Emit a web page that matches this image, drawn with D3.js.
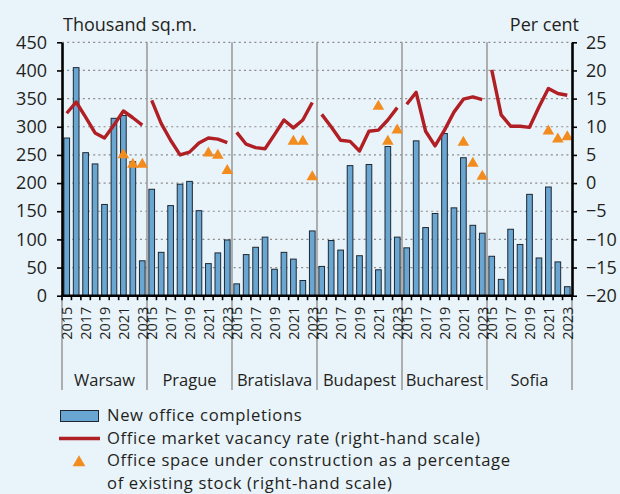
<!DOCTYPE html>
<html>
<head>
<meta charset="utf-8">
<script src="https://cdn.jsdelivr.net/npm/d3@7"></script>
<style>
  html, body { margin: 0; padding: 0; background: #E9F3FA; }
  svg { display: block; font-family: "Open Sans", sans-serif; }
</style>
</head>
<body>
<svg id="chart" width="620" height="494"></svg>
<script>
// ---- Data ----
const cities = ["Warsaw", "Prague", "Bratislava", "Budapest", "Bucharest", "Sofia"];
const years = ["2015", "2016", "2017", "2018", "2019", "2020", "2021", "2022", "2023"];
const constructionYears = ["2021", "2022", "2023"];
const yearTickLabels = ["2015", "2017", "2019", "2021", "2023"];
const leftTicks = [0, 50, 100, 150, 200, 250, 300, 350, 400, 450];
const rightTicks = [-20, -15, -10, -5, 0, 5, 10, 15, 20, 25];

// New office completions (thousand sq.m.)
const completionsWarsaw = [280, 405, 254, 234, 162, 315, 320, 238, 62];
const completionsPrague = [189, 77, 160, 198, 203, 151, 57, 76, 99];
const completionsBratislava = [21, 73, 86, 104, 47, 77, 65, 27, 115];
const completionsBudapest = [52, 98, 81, 231, 71, 233, 46, 265, 104];
const completionsBucharest = [85, 275, 121, 146, 288, 156, 245, 125, 111];
const completionsSofia = [70, 29, 118, 91, 180, 67, 193, 60, 16];

// Office market vacancy rate (per cent)
const vacancyWarsaw = [12.4, 14.4, 11.7, 8.9, 8.0, 10.3, 12.8, 11.6, 10.3];
const vacancyPrague = [14.7, 10.6, 7.6, 5.0, 5.5, 7.1, 8.0, 7.8, 7.2];
const vacancyBratislava = [9.0, 6.9, 6.3, 6.1, 8.6, 11.2, 9.8, 11.2, 14.3];
const vacancyBudapest = [12.2, 10.0, 7.6, 7.4, 5.7, 9.2, 9.4, 11.2, 13.4];
const vacancyBucharest = [14.0, 16.1, 9.2, 6.6, 9.4, 12.6, 14.9, 15.3, 14.8];
const vacancySofia = [20.1, 12.1, 10.1, 10.1, 9.9, 13.5, 16.8, 15.9, 15.6];

// Office space under construction as % of existing stock (2021-2023)
const constructionWarsaw = [5.0, 3.3, 3.3];
const constructionPrague = [5.3, 4.9, 2.2];
const constructionBratislava = [7.4, 7.4, 1.1];
const constructionBudapest = [13.6, 7.4, 9.4];
const constructionBucharest = [7.2, 3.5, 1.2];
const constructionSofia = [9.2, 7.8, 8.2];

const completionsByCity = [completionsWarsaw, completionsPrague, completionsBratislava, completionsBudapest, completionsBucharest, completionsSofia];
const vacancyByCity = [vacancyWarsaw, vacancyPrague, vacancyBratislava, vacancyBudapest, vacancyBucharest, vacancySofia];
const constructionByCity = [constructionWarsaw, constructionPrague, constructionBratislava, constructionBudapest, constructionBucharest, constructionSofia];

// ---- Build tables ----
const barData = [];
cities.forEach((c, ci) => years.forEach((y, yi) => barData.push({ key: c + "|" + y, city: c, year: y, value: completionsByCity[ci][yi] })));
const vacancySeries = cities.map((c, ci) => years.map((y, yi) => ({ key: c + "|" + y, value: vacancyByCity[ci][yi] })));
const triData = [];
cities.forEach((c, ci) => constructionYears.forEach((y, yi) => triData.push({ key: c + "|" + y, value: constructionByCity[ci][yi] })));

// ---- Layout ----
const svg = d3.select("#chart");
const plotLeft = 62, plotRight = 572, plotTop = 42.3, plotBottom = 295.7;
const colors = { bg: "#E9F3FA", bar: "#6AA6D2", barStroke: "#1E2833", line: "#AF1F24", tri: "#F28C1F", grid: "#8C8C8C", sep: "#9C9C9C", text: "#231F20" };

svg.append("rect").attr("width", 620).attr("height", 494).attr("fill", colors.bg);

const x = d3.scaleBand().domain(barData.map(d => d.key)).range([plotLeft, plotRight]).paddingInner(0.4).paddingOuter(0.2);
const yL = d3.scaleLinear().domain([0, 450]).range([plotBottom, plotTop]);
const yR = d3.scaleLinear().domain([-20, 25]).range([plotBottom, plotTop]);
const step = x.step();
const cx = k => x(k) + x.bandwidth() / 2;
const boundary = k => x(k) - step * 0.2;
const groupX = i => x(cities[i] + "|2015") - step * 0.2;

// gridlines
svg.append("g").selectAll("line").data(leftTicks.filter(t => t > 0)).join("line")
  .attr("x1", plotLeft).attr("x2", plotRight).attr("y1", d => yL(d)).attr("y2", d => yL(d))
  .attr("stroke", colors.grid).attr("stroke-width", 1.2).attr("stroke-dasharray", "2,3.2");

// group separators
const sepXs = d3.range(cities.length + 1).map(i => i < cities.length ? groupX(i) : plotRight);
svg.append("g").selectAll("line").data(sepXs).join("line")
  .attr("x1", d => d).attr("x2", d => d)
  .attr("y1", (d, i) => (i === 0 || i === cities.length) ? plotBottom : plotTop)
  .attr("y2", 390)
  .attr("stroke", colors.sep).attr("stroke-width", 1.6);

// bars
svg.append("g").selectAll("rect").data(barData).join("rect")
  .attr("x", d => x(d.key)).attr("width", x.bandwidth())
  .attr("y", d => yL(d.value)).attr("height", d => yL(0) - yL(d.value))
  .attr("fill", colors.bar).attr("stroke", colors.barStroke).attr("stroke-width", 1);

// vacancy lines
const line = d3.line().x(d => cx(d.key)).y(d => yR(d.value));
svg.append("g").selectAll("path").data(vacancySeries).join("path")
  .attr("d", line).attr("fill", "none").attr("stroke", colors.line)
  .attr("stroke-width", 3.4).attr("stroke-linejoin", "round").attr("stroke-linecap", "butt");

// triangles
const tri = d3.symbol(d3.symbolTriangle, 58);
svg.append("g").selectAll("path").data(triData).join("path")
  .attr("d", tri).attr("transform", d => `translate(${cx(d.key)},${yR(d.value)})`)
  .attr("fill", colors.tri);

// bottom axis line & ticks at category boundaries
const bTicks = barData.map(d => boundary(d.key)).concat([plotRight]);
svg.append("g").selectAll("line").data(bTicks).join("line")
  .attr("x1", d => d).attr("x2", d => d).attr("y1", plotBottom).attr("y2", plotBottom + 4.5)
  .attr("stroke", "#000").attr("stroke-width", 1.6);
svg.append("line").attr("x1", plotLeft - 1).attr("x2", plotRight + 1).attr("y1", plotBottom).attr("y2", plotBottom)
  .attr("stroke", "#000").attr("stroke-width", 2.6);

// left axis
const axL = svg.append("g").attr("transform", `translate(${plotLeft},0)`)
  .call(d3.axisLeft(yL).tickValues(leftTicks).tickSize(5).tickSizeOuter(0).tickPadding(10).tickFormat(d3.format("d")));
axL.select(".domain").attr("stroke", "#000").attr("stroke-width", 2.6);
axL.selectAll(".tick line").attr("stroke", "#000").attr("stroke-width", 1.6);
axL.selectAll("text").attr("font-family", "Open Sans").attr("font-size", 18).attr("fill", colors.text);

// right axis
const axR = svg.append("g").attr("transform", `translate(${plotRight},0)`)
  .call(d3.axisRight(yR).tickValues(rightTicks).tickSize(5).tickSizeOuter(0).tickPadding(9).tickFormat(d3.format("d")));
axR.select(".domain").attr("stroke", "#000").attr("stroke-width", 2.6);
axR.selectAll(".tick line").attr("stroke", "#000").attr("stroke-width", 1.6);
axR.selectAll("text").attr("font-family", "Open Sans").attr("font-size", 18).attr("fill", colors.text);

// axis titles
svg.append("text").attr("x", 63).attr("y", 31).attr("font-size", 18).attr("fill", colors.text).text("Thousand sq.m.");
svg.append("text").attr("x", 579).attr("y", 31).attr("text-anchor", "end").attr("font-size", 18).attr("fill", colors.text).text("Per cent");

// year labels (rotated)
const yearLabelData = barData.filter(d => yearTickLabels.includes(d.year));
svg.append("g").selectAll("text").data(yearLabelData).join("text")
  .attr("transform", d => `translate(${cx(d.key)},${plotBottom + 11}) rotate(-90)`)
  .attr("text-anchor", "end").attr("dy", "0.36em")
  .attr("font-size", 14.5).attr("fill", colors.text).text(d => d.year);

// city labels
svg.append("g").selectAll("text").data(cities).join("text")
  .attr("x", (d, i) => (sepXs[i] + sepXs[i + 1]) / 2).attr("y", 386)
  .attr("text-anchor", "middle").attr("font-size", 16.5).attr("fill", colors.text).text(d => d);

// legend
const lg = svg.append("g");
lg.append("rect").attr("x", 60.5).attr("y", 410.5).attr("width", 38).attr("height", 11)
  .attr("fill", colors.bar).attr("stroke", colors.barStroke).attr("stroke-width", 1);
lg.append("line").attr("x1", 59).attr("x2", 100).attr("y1", 438.5).attr("y2", 438.5)
  .attr("stroke", colors.line).attr("stroke-width", 3.4);
lg.append("path").attr("d", d3.symbol(d3.symbolTriangle, 70)()).attr("transform", "translate(79,462.5)").attr("fill", colors.tri);
const legendLines = [
  ["New office completions", 421.2],
  ["Office market vacancy rate (right-hand scale)", 443.8],
  ["Office space under construction as a percentage", 466.4],
  ["of existing stock (right-hand scale)", 488.9]
];
lg.selectAll("text").data(legendLines).join("text")
  .attr("x", 107).attr("y", d => d[1]).attr("font-size", 16.6).attr("letter-spacing", 0.65)
  .attr("fill", colors.text).text(d => d[0]);
</script>
</body>
</html>
